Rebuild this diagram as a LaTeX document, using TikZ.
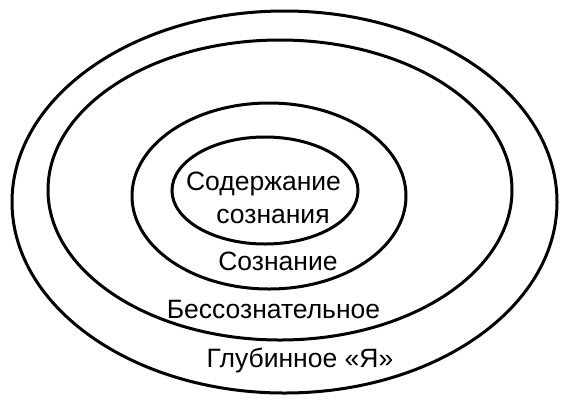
\documentclass[tikz,border=0pt]{standalone}
\usepackage{fontspec}
\setmainfont{Liberation Sans}
\begin{document}
\begin{tikzpicture}[x=1pt,y=-1pt,
  ring/.style={draw=black,line width=3pt},
  lbl/.style={anchor=base,inner sep=0pt,font=\fontsize{26.5}{30}\selectfont}]
\useasboundingbox (0,0) rectangle (575,400);
\draw[ring] (284.5,202) ellipse [x radius=272.5,y radius=191];
\draw[ring] (280,190) ellipse [x radius=232,y radius=150];
\draw[ring] (269,196) ellipse [x radius=137,y radius=93];
\draw[ring] (265,190.5) ellipse [x radius=93,y radius=53.5];
\node[lbl] (c1) at (263.5,190) {Содержание};
\node[lbl] (c2) at (273,223) {сознания};
\node[lbl] (s) at (278,270) {Сознание};
\node[lbl] (b) at (273.5,318) {Бессознательное};
\node[lbl] (g) at (300,367) {Глубинное «Я»};
\end{tikzpicture}
\end{document}
